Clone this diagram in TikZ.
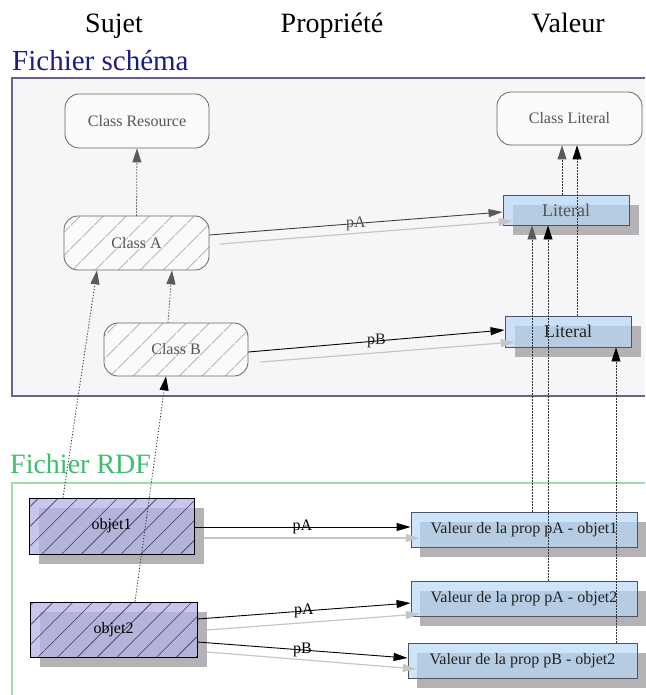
\documentclass[tikz,border=0pt]{standalone}
\usepackage{fontspec}
\setmainfont{Liberation Serif}
\usetikzlibrary{arrows.meta,patterns.meta}

\definecolor{schemafill}{HTML}{F6F5F8}
\definecolor{schemaline}{HTML}{6A6190}
\definecolor{schematitle}{HTML}{1C1C84}
\definecolor{rdftitle}{HTML}{3DBE6C}
\definecolor{rdfline}{HTML}{94E2B4}
\definecolor{classfill}{HTML}{FAF9FB}
\definecolor{classline}{HTML}{666666}
\definecolor{classtext}{HTML}{555555}
\definecolor{darktext}{HTML}{222222}
\definecolor{hatchlight}{HTML}{9A9A9A}
\definecolor{hatchdark}{HTML}{3A3A58}
\definecolor{shadowgray}{HTML}{B4B2B4}
\definecolor{valfill}{HTML}{B8D8F8}
\definecolor{valline}{HTML}{4E5560}
\definecolor{objfill}{HTML}{B4B4E8}
\definecolor{ghost}{HTML}{C6C6C6}
\definecolor{headgray}{HTML}{5A5A5A}
\definecolor{relgray}{HTML}{404040}
\definecolor{dotline}{HTML}{303030}

\tikzset{
  txt/.style={font=\fontsize{16}{19}\selectfont},
  classbox/.style={draw=classline, line width=0.8pt, rounded corners=14pt,
    fill=classfill, inner sep=0pt, txt, text=classtext},
  hatched/.style={preaction={fill=classfill},
    pattern={Lines[angle=45,distance=17pt,line width=0.7pt]}, pattern color=hatchlight},
  shadowbox/.style={fill=shadowgray, inner sep=0pt},
  valbox/.style={draw=valline, line width=0.9pt, fill=valfill, fill opacity=0.7,
    text opacity=1, inner sep=0pt, txt, text=darktext},
  objbox/.style={draw=black, line width=0.9pt, inner sep=0pt, txt, text=black,
    preaction={fill=objfill, fill opacity=0.75},
    pattern={Lines[angle=45,distance=14pt,line width=0.6pt]}, pattern color=hatchdark},
  rel/.style={line width=0.9pt, -{Triangle[length=14pt,width=8pt]}},
  ghostrel/.style={draw=ghost, line width=1.2pt, -{Triangle[length=14pt,width=8pt]}},
  typeof/.style={draw=dotline, line width=0.8pt, dash pattern=on 1.2pt off 1.8pt,
    -{Triangle[length=14pt,width=9pt,color=black]}},
  grayhead/.style={-{Triangle[length=14pt,width=9pt,color=headgray]}},
  lbl/.style={txt, inner sep=0pt},
  heading/.style={anchor=base, font=\fontsize{28}{32}\selectfont},
}

\begin{document}
\begin{tikzpicture}[x=1pt,y=-1pt]
\useasboundingbox (0,0) rectangle (645,695);

% column headings
\node[heading] (hSujet) at (114,33) {Sujet};
\node[heading] (hProp) at (332,33) {Propriété};
\node[heading] (hVal) at (568,33) {Valeur};

% schema file frame
\node[anchor=base west, inner sep=0pt, font=\fontsize{29}{34}\selectfont, text=schematitle]
  (tSchema) at (12,71) {Fichier schéma};
\fill[schemafill] (12,78) rectangle (645,396);
\draw[schemaline, line width=1.3pt] (645,78) -- (12,78) -- (12,396) -- (645,396);

% RDF file frame
\node[anchor=base west, inner sep=0pt, font=\fontsize{28}{33}\selectfont, text=rdftitle]
  (tRDF) at (10,473) {Fichier RDF};
\draw[rdfline, line width=1.8pt] (645,483) -- (12,483) -- (12,695);

% schema classes
\node[classbox, minimum width=144pt, minimum height=54pt] (cRes) at (137,121) {Class Resource};
\node[classbox, hatched, minimum width=145pt, minimum height=54pt] (cA) at (136.5,243) {Class A};
\node[classbox, hatched, minimum width=144pt, minimum height=53pt] (cB) at (176,349.5) {Class B};
\node[classbox, minimum width=145pt, minimum height=53pt] (cLit) at (569.5,118.5) {Class Literal};

% literal ranges
\node[shadowbox, minimum width=126pt, minimum height=30pt] (lit1s) at (576,220) {};
\node[valbox, minimum width=126pt, minimum height=30pt, text=classtext,
  font=\fontsize{18}{21}\selectfont] (lit1) at (566,210) {Literal};
\node[shadowbox, minimum width=126pt, minimum height=31pt] (lit2s) at (578,341.5) {};
\node[valbox, minimum width=126pt, minimum height=31pt,
  font=\fontsize{18}{21}\selectfont] (lit2) at (568,331.5) {Literal};

% RDF resources
\node[shadowbox, minimum width=165pt, minimum height=56pt] (o1s) at (121.5,536) {};
\node[objbox, minimum width=165pt, minimum height=56pt] (o1) at (111.5,526) {objet1};
\node[shadowbox, minimum width=167pt, minimum height=55pt] (o2s) at (123.5,639.5) {};
\node[objbox, minimum width=167pt, minimum height=55pt] (o2) at (113.5,629.5) {objet2};

% RDF values
\node[shadowbox, minimum width=226pt, minimum height=35pt] (v1s) at (533,539.5) {};
\node[valbox, minimum width=226pt, minimum height=35pt] (v1) at (524,529.5) {Valeur de la prop pA - objet1};
\node[shadowbox, minimum width=226pt, minimum height=35pt] (v2s) at (533,608.5) {};
\node[valbox, minimum width=226pt, minimum height=35pt] (v2) at (524,598.5) {Valeur de la prop pA - objet2};
\node[shadowbox, minimum width=229pt, minimum height=35pt] (v3s) at (531.5,670.5) {};
\node[valbox, minimum width=229pt, minimum height=35pt] (v3) at (522.5,660.5) {Valeur de la prop pB - objet2};

% properties in the schema
\draw[ghostrel] ([xshift=11pt,yshift=-1pt]cA.east) -- ([yshift=-1pt]lit1s.west);
\draw[rel, draw=relgray, -{Triangle[length=14pt,width=8pt,color=headgray]}]
  ([yshift=8pt]cA.east) -- node[lbl, text=classtext] (lpA) {pA} ([yshift=-2pt]lit1.west);
\draw[ghostrel] ([xshift=12pt,yshift=-12.5pt]cB.east) -- ([yshift=-0.5pt]lit2s.west);
\draw[rel] ([yshift=-2.5pt]cB.east) -- node[lbl, text=darktext] (lpB) {pB} ([yshift=1.5pt]lit2.west);

% properties in the RDF file
\draw[ghostrel] ([yshift=-2pt]o1s.east) -- ([yshift=1.5pt]v1s.west);
\draw[rel] ([yshift=-1pt]o1.east) -- node[lbl] (lpA1) {pA} ([yshift=2.5pt]v1.west);
\draw[ghostrel] ([yshift=9.5pt]o2s.east) -- ([yshift=-5.5pt]v2s.west);
\draw[rel] ([yshift=10.5pt]o2.east) -- node[lbl] (lpA2) {pA} ([yshift=-4.5pt]v2.west);
\draw[ghostrel] ([yshift=-12.5pt]o2s.east) -- ([yshift=1.5pt]v3s.west);
\draw[rel] ([yshift=-12.5pt]o2.east) -- node[lbl] (lpB2) {pB} ([yshift=2.5pt]v3.west);

% typing links
\draw[typeof, grayhead] (cA.north) -- (cRes.south);
\draw[typeof, grayhead] ([xshift=-8pt]cB.north) -- ([xshift=35.5pt]cA.south);
\draw[typeof, grayhead] ([xshift=-48.5pt]o1.north) -- ([xshift=-39.5pt]cA.south);
\draw[typeof] ([xshift=21.5pt]o2.north) -- ([xshift=-10pt]cB.south);
\draw[typeof, grayhead] ([xshift=-4pt]lit1.north) -- ([xshift=-7.5pt]cLit.south);
\draw[typeof] ([xshift=9pt]lit2.north) -- ([xshift=7.5pt]cLit.south);
\draw[typeof, grayhead] ([xshift=8pt]v1.north) -- ([xshift=-34pt]lit1.south);
\draw[typeof] ([xshift=24pt]v2.north) -- ([xshift=-18pt]lit1.south);
\draw[typeof] ([xshift=93.5pt]v3.north) -- ([xshift=48pt]lit2.south);
\end{tikzpicture}
\end{document}
